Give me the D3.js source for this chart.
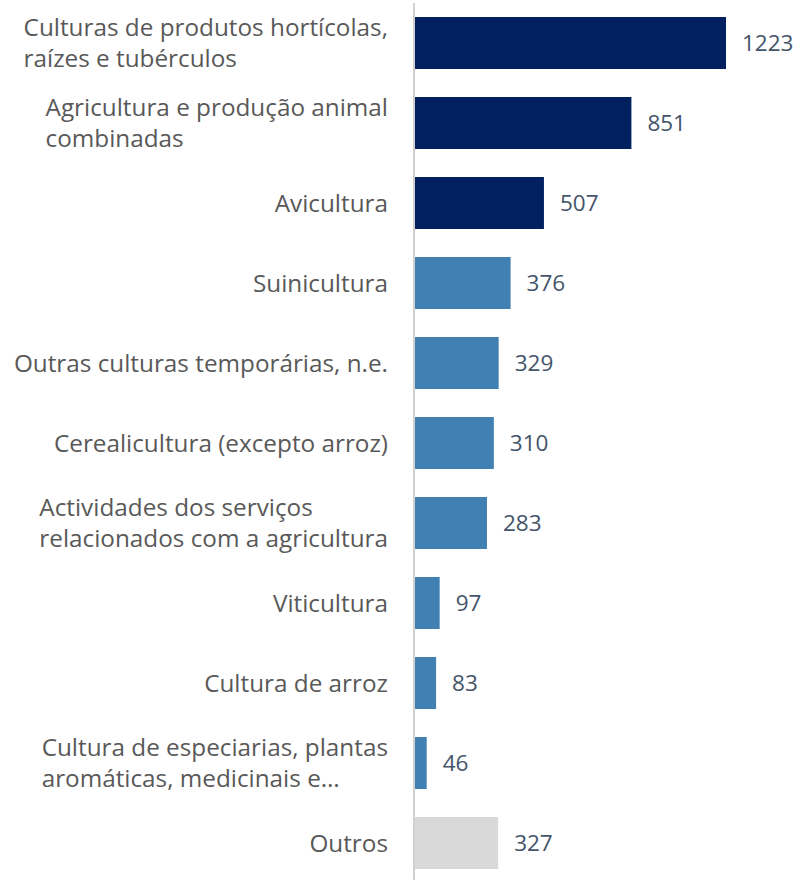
<!DOCTYPE html>
<html>
<head>
<meta charset="utf-8">
<script src="https://cdn.jsdelivr.net/npm/d3@7"></script>
<style>
  html, body { margin: 0; padding: 0; background: #fff; }
  svg { display: block; }
</style>
</head>
<body>
<svg id="chart" width="799" height="880"></svg>
<script>
// Categories (each entry is a list of label lines)
const categories = [
  ["Culturas de produtos hortícolas,", "raízes e tubérculos"],
  ["Agricultura e produção animal", "combinadas"],
  ["Avicultura"],
  ["Suinicultura"],
  ["Outras culturas temporárias, n.e."],
  ["Cerealicultura (excepto arroz)"],
  ["Actividades dos serviços", "relacionados com a agricultura"],
  ["Viticultura"],
  ["Cultura de arroz"],
  ["Cultura de especiarias, plantas", "aromáticas, medicinais e…"],
  ["Outros"]
];
const values = [1223, 851, 507, 376, 329, 310, 283, 97, 83, 46, 327];
const groups = ["top", "top", "top", "mid", "mid", "mid", "mid", "mid", "mid", "mid", "other"];

const colors = { top: "#002060", mid: "#4180B2", other: "#D9D9D9" };

const svg = d3.select("#chart");
const axisX = 414;
const font = "'Open Sans', sans-serif";

const idx = d3.range(values.length);
const y = d3.scaleBand().domain(idx).range([3, 883]).paddingInner(0.35).paddingOuter(0.175);
const x = d3.scaleLinear().domain([0, 1223]).range([axisX + 1, 726]);

// bars
svg.append("g").selectAll("rect").data(idx).join("rect")
  .attr("x", x(0))
  .attr("y", i => y(i))
  .attr("width", i => x(values[i]) - x(0))
  .attr("height", y.bandwidth())
  .attr("fill", i => colors[groups[i]]);

// vertical axis line
svg.append("line")
  .attr("x1", axisX).attr("x2", axisX)
  .attr("y1", 3).attr("y2", 880)
  .attr("stroke", "#D0D0D0").attr("stroke-width", 2);

// value labels
svg.append("g").selectAll("text").data(idx).join("text")
  .attr("x", i => x(values[i]) + 16)
  .attr("y", i => y(i) + y.bandwidth() / 2)
  .attr("dy", "0.35em")
  .attr("font-family", font)
  .attr("font-size", 22.5)
  .attr("fill", "#44546A")
  .text(i => values[i]);

// category labels
const lineH = 31;
const lab = svg.append("g").selectAll("text").data(idx).join("text")
  .attr("text-anchor", "end")
  .attr("font-family", font)
  .attr("font-size", 24.3)
  .attr("fill", "#595959");
lab.each(function(i) {
  const lines = categories[i];
  const cy = y(i) + y.bandwidth() / 2;
  const y0 = cy - (lines.length - 1) * lineH / 2;
  const t = d3.select(this);
  lines.forEach((ln, k) => {
    t.append("tspan")
      .attr("x", 388)
      .attr("y", y0 + k * lineH)
      .attr("dy", "0.35em")
      .text(ln);
  });
});
// multi-line labels are left-aligned within their block
lab.filter(i => categories[i].length > 1).each(function() {
  const t = d3.select(this);
  const w = this.getBBox().width;
  t.attr("text-anchor", "start");
  t.selectAll("tspan").attr("x", 388 - w);
});
</script>
</body>
</html>
